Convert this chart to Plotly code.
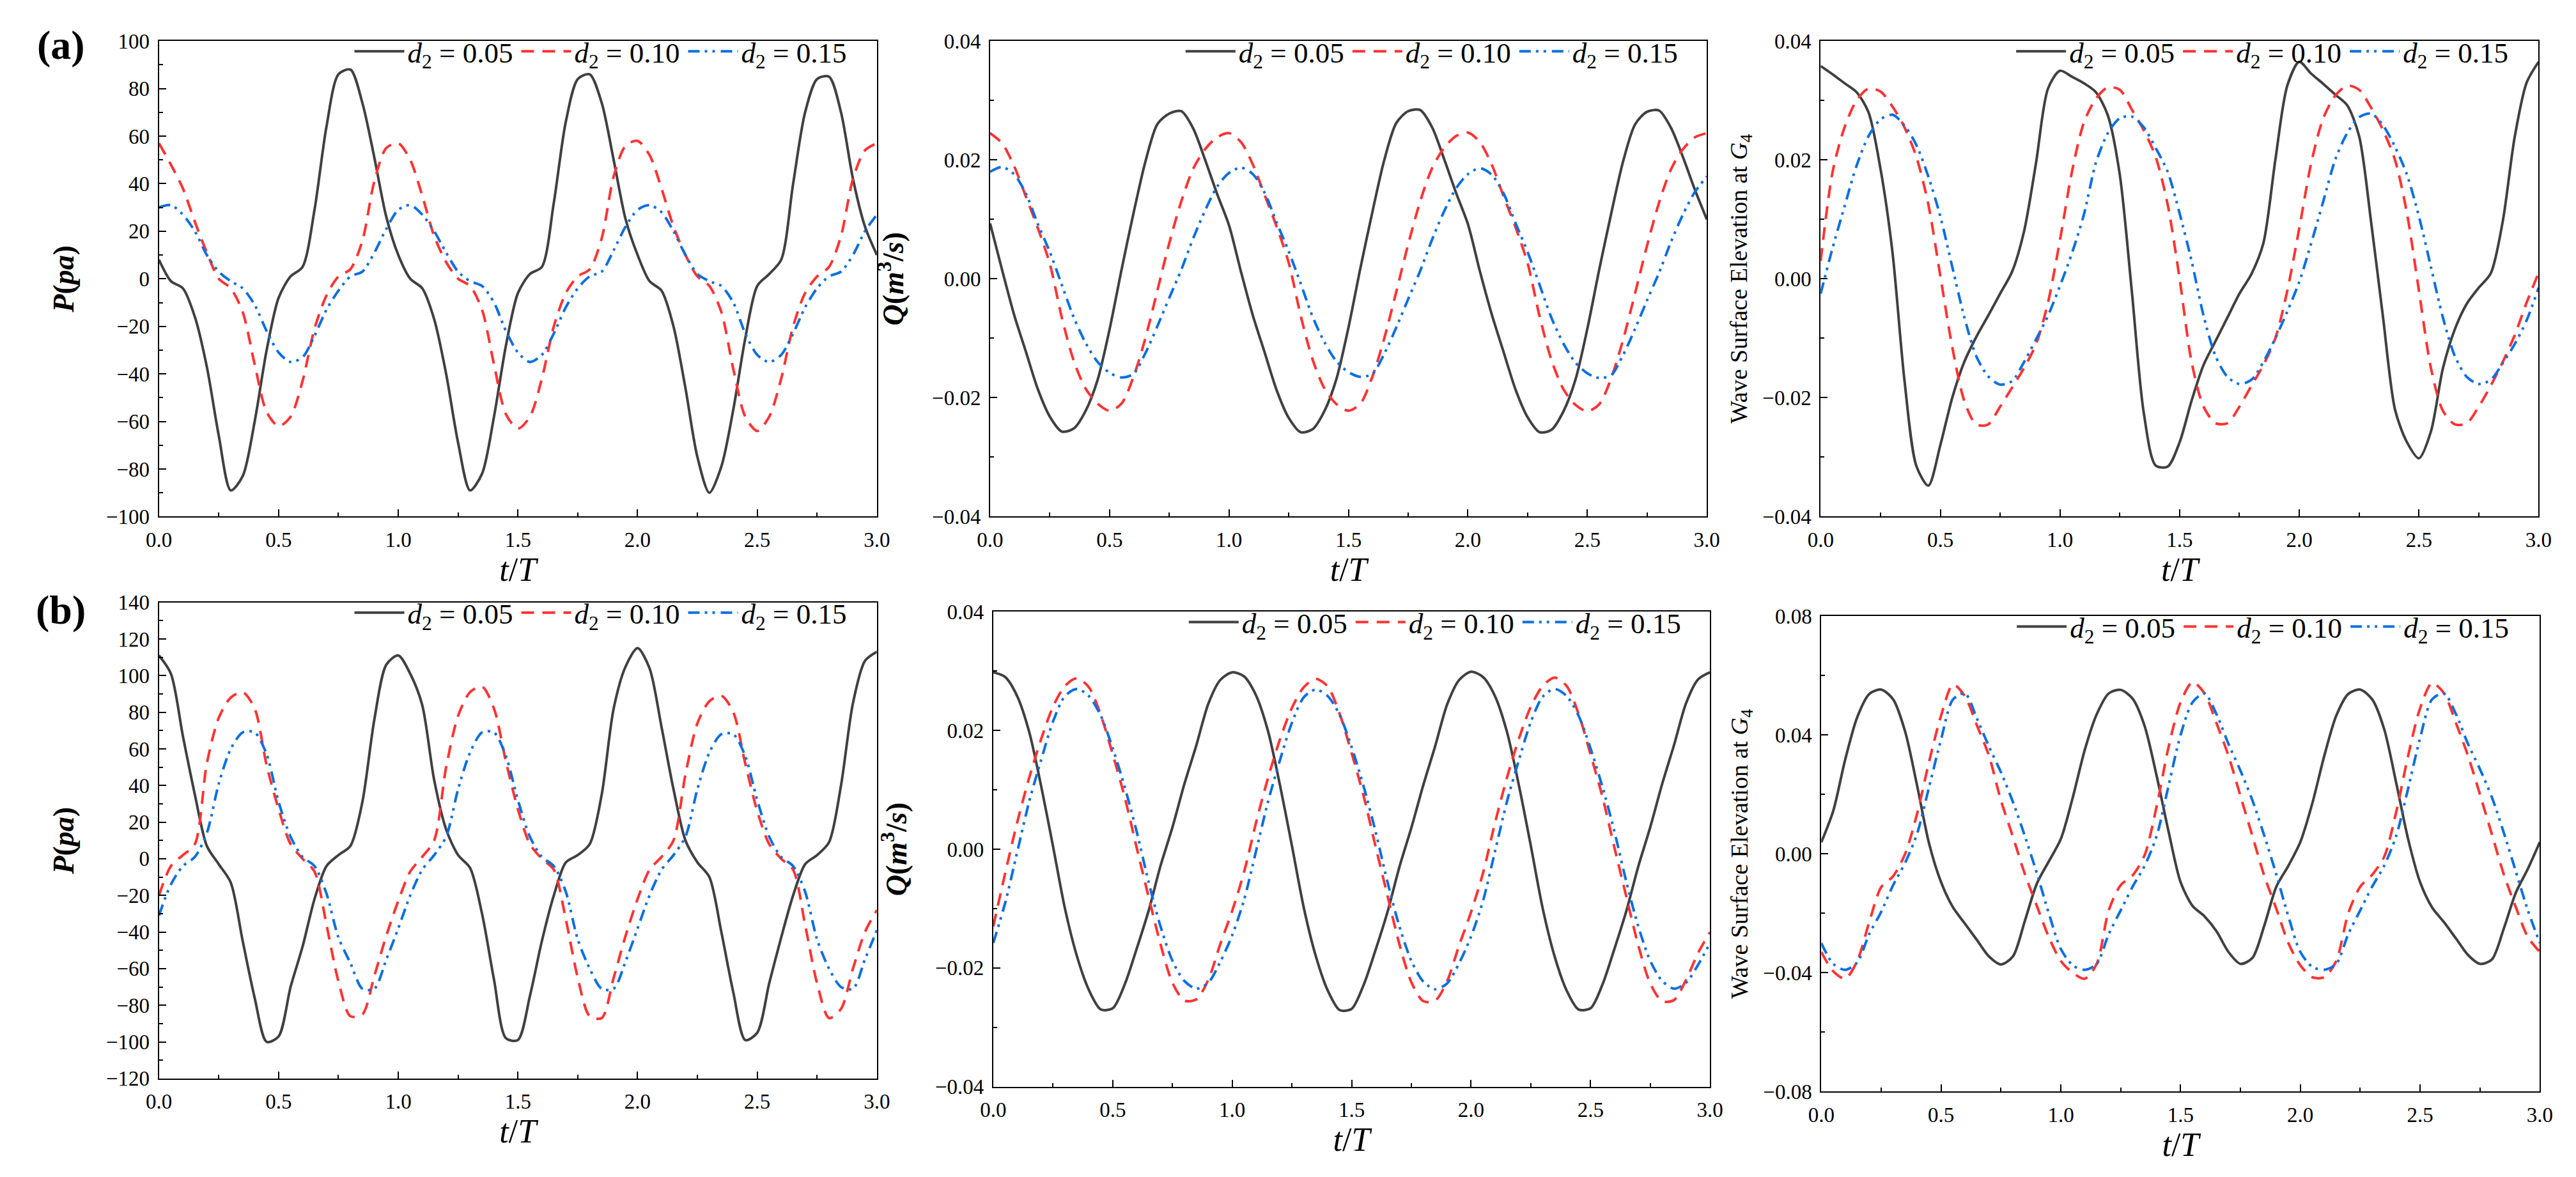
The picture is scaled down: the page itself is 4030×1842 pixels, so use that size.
import numpy as np
import plotly.graph_objects as go

# sample times (t/T)
t = np.round(np.linspace(0, 3, 61), 2)
labels = ["<i>d</i><sub>2</sub> = 0.05", "<i>d</i><sub>2</sub> = 0.10", "<i>d</i><sub>2</sub> = 0.15"]

# ---------------- (a) P(pa) ----------------
a_p_005 = [8,-1,-4,-16,-37,-66,-89,-83,-60,-30,-8,1,5,29,64,86,88,74,51,26,
           10,0,-4,-17,-40,-69,-89,-82,-58,-28,-6,2,5,32,66,84,86,74,50,25,
           10,-1,-5,-20,-46,-75,-90,-79,-55,-25,-3,2,8,40,70,84,85,70,42,22,
           10]
a_p_010 = [57,48,38,24,11,0,-4,-14,-36,-56,-62,-58,-43,-21,-7,1,4,16,41,55,
           57,50,35,18,7,0,-3,-13,-36,-57,-63,-58,-42,-20,-6,1,4,17,43,56,
           58,52,38,22,10,1,-3,-14,-38,-58,-64,-58,-42,-20,-6,1,5,18,42,54,
           57]
a_p_015 = [30,31,27,20,10,3,-1,-4,-11,-22,-31,-35,-33,-24,-13,-5,1,3,11,21,
           29,31,27,20,11,3,-1,-3,-10,-22,-31,-35,-32,-23,-12,-4,1,3,12,22,
           29,31,28,20,10,2,-1,-3,-10,-23,-32,-35,-32,-23,-12,-4,1,3,10,20,
           27]

# ---------------- (a) Q(m3/s) ----------------
a_q_005 = [0.0093,0.0015,-0.0060,-0.0123,-0.0186,-0.0232,-0.0257,-0.0252,-0.0222,-0.0170,-0.0085,0.0015,0.0110,0.0197,0.0260,0.0278,0.0282,0.0253,0.0200,0.0143,
           0.0090,0.0012,-0.0062,-0.0125,-0.0188,-0.0234,-0.0258,-0.0253,-0.0222,-0.0168,-0.0082,0.0018,0.0112,0.0200,0.0262,0.0282,0.0284,0.0255,0.0202,0.0145,
           0.0092,0.0013,-0.0060,-0.0124,-0.0187,-0.0233,-0.0258,-0.0254,-0.0223,-0.0170,-0.0084,0.0016,0.0110,0.0198,0.0260,0.0281,0.0283,0.0254,0.0205,0.0150,
           0.0100]
a_q_010 = [0.0245,0.0228,0.0190,0.0138,0.0085,0.0025,-0.0065,-0.0138,-0.0185,-0.0210,-0.0222,-0.0210,-0.0165,-0.0100,-0.0020,0.0060,0.0130,0.0185,0.0218,0.0238,
           0.0245,0.0230,0.0192,0.0140,0.0087,0.0027,-0.0062,-0.0136,-0.0185,-0.0211,-0.0222,-0.0210,-0.0165,-0.0100,-0.0022,0.0058,0.0130,0.0186,0.0220,0.0240,
           0.0246,0.0230,0.0192,0.0138,0.0086,0.0026,-0.0063,-0.0137,-0.0186,-0.0212,-0.0223,-0.0211,-0.0167,-0.0102,-0.0024,0.0056,0.0128,0.0184,0.0218,0.0238,
           0.0245]
a_q_015 = [0.0180,0.0188,0.0176,0.0143,0.0092,0.0045,-0.0010,-0.0065,-0.0108,-0.0140,-0.0158,-0.0166,-0.0160,-0.0125,-0.0080,-0.0032,0.0015,0.0068,0.0115,0.0155,
           0.0178,0.0187,0.0176,0.0144,0.0094,0.0046,-0.0008,-0.0064,-0.0107,-0.0139,-0.0157,-0.0165,-0.0160,-0.0126,-0.0082,-0.0034,0.0013,0.0066,0.0113,0.0152,
           0.0176,0.0186,0.0175,0.0143,0.0093,0.0045,-0.0010,-0.0066,-0.0109,-0.0141,-0.0159,-0.0167,-0.0162,-0.0128,-0.0084,-0.0036,0.0010,0.0062,0.0108,0.0146,
           0.0172]

# ---------------- (a) wave surface elevation at G4 ----------------
a_g_005 = [0.0358,0.0344,0.0329,0.0314,0.0280,0.0185,0.0045,-0.0170,-0.0315,-0.0348,-0.0280,-0.0200,-0.0140,-0.0098,-0.0062,-0.0025,0.0012,0.0080,0.0195,0.0320,
           0.0350,0.0340,0.0329,0.0314,0.0275,0.0175,-0.0020,-0.0225,-0.0314,-0.0316,-0.0275,-0.0205,-0.0145,-0.0105,-0.0065,-0.0025,0.0008,0.0060,0.0200,0.0325,
           0.0365,0.0345,0.0328,0.0310,0.0292,0.0240,0.0096,-0.0065,-0.0220,-0.0275,-0.0302,-0.0257,-0.0151,-0.0085,-0.0042,-0.0015,0.0009,0.0096,0.0238,0.0330,
           0.0365]
a_g_010 = [0.0030,0.0180,0.0255,0.0300,0.0320,0.0315,0.0290,0.0255,0.0205,0.0125,0.0005,-0.0115,-0.0205,-0.0245,-0.0245,-0.0215,-0.0183,-0.0150,-0.0110,-0.0040,
           0.0065,0.0180,0.0263,0.0303,0.0322,0.0318,0.0285,0.0250,0.0205,0.0125,0.0000,-0.0140,-0.0215,-0.0243,-0.0243,-0.0215,-0.0180,-0.0145,-0.0100,-0.0020,
           0.0085,0.0195,0.0270,0.0308,0.0325,0.0318,0.0288,0.0250,0.0200,0.0110,-0.0020,-0.0150,-0.0222,-0.0245,-0.0243,-0.0215,-0.0180,-0.0140,-0.0095,-0.0040,
           0.0010]
a_g_015 = [-0.0025,0.0052,0.0122,0.0190,0.0240,0.0268,0.0276,0.0258,0.0225,0.0172,0.0105,0.0020,-0.0064,-0.0130,-0.0164,-0.0178,-0.0172,-0.0140,-0.0102,-0.0062,
           -0.0012,0.0043,0.0108,0.0195,0.0245,0.0270,0.0273,0.0255,0.0220,0.0180,0.0110,0.0030,-0.0062,-0.0130,-0.0165,-0.0177,-0.0170,-0.0140,-0.0100,-0.0055,
           -0.0005,0.0060,0.0130,0.0200,0.0245,0.0272,0.0278,0.0258,0.0222,0.0175,0.0105,0.0020,-0.0065,-0.0130,-0.0165,-0.0177,-0.0170,-0.0142,-0.0110,-0.0070,
           -0.0015]

# ---------------- (b) P(pa) ----------------
b_p_005 = [111,101,67,35,7,-3,-13,-45,-76,-100,-97,-70,-48,-22,-4,2,7,31,76,106,
           111,101,84,43,16,2,-5,-30,-66,-98,-99,-75,-45,-20,-2,2,8,35,82,105,
           115,104,72,38,10,-2,-10,-40,-73,-99,-95,-68,-43,-20,-3,2,9,40,85,108,
           113]
b_p_010 = [-20,-4,2,8,52,77,88,91,82,51,27,8,0,-7,-36,-67,-86,-85,-64,-42,
           -23,-7,1,10,50,78,91,94,82,53,27,8,0,-6,-33,-65,-86,-87,-65,-42,
           -22,-6,1,10,46,74,86,89,80,52,26,8,0,-6,-36,-68,-87,-82,-60,-40,
           -28]
b_p_015 = [-31,-14,-4,1,14,41,60,69,69,57,31,12,1,-4,-19,-43,-57,-71,-71,-55,
           -38,-20,-6,2,12,38,58,69,69,56,32,12,1,-4,-18,-44,-60,-71,-71,-56,
           -38,-20,-6,2,12,38,58,68,68,56,32,12,1,-4,-18,-44,-60,-70,-71,-55,
           -39]

# ---------------- (b) Q(m3/s) ----------------
b_q_005 = [0.0298,0.0290,0.0258,0.0198,0.0107,0.0005,-0.0100,-0.0180,-0.0237,-0.0270,-0.0268,-0.0228,-0.0168,-0.0104,-0.0028,0.0037,0.0110,0.0175,0.0245,0.0285,
           0.0298,0.0291,0.0259,0.0199,0.0108,0.0006,-0.0099,-0.0180,-0.0238,-0.0271,-0.0269,-0.0229,-0.0170,-0.0106,-0.0030,0.0036,0.0108,0.0174,0.0244,0.0285,
           0.0299,0.0290,0.0258,0.0198,0.0108,0.0006,-0.0100,-0.0181,-0.0238,-0.0270,-0.0268,-0.0228,-0.0168,-0.0104,-0.0029,0.0037,0.0110,0.0176,0.0246,0.0286,
           0.0298]
b_q_010 = [-0.0130,-0.0040,0.0045,0.0120,0.0185,0.0240,0.0275,0.0288,0.0273,0.0226,0.0160,0.0088,0.0003,-0.0080,-0.0160,-0.0225,-0.0255,-0.0253,-0.0220,-0.0160,
           -0.0104,-0.0038,0.0045,0.0120,0.0185,0.0238,0.0273,0.0287,0.0274,0.0228,0.0162,0.0090,0.0005,-0.0078,-0.0160,-0.0224,-0.0256,-0.0255,-0.0222,-0.0162,
           -0.0106,-0.0040,0.0044,0.0120,0.0186,0.0240,0.0275,0.0289,0.0275,0.0228,0.0160,0.0088,0.0003,-0.0080,-0.0162,-0.0226,-0.0256,-0.0254,-0.0220,-0.0175,
           -0.0140]
b_q_015 = [-0.0158,-0.0090,-0.0005,0.0080,0.0150,0.0215,0.0258,0.0270,0.0258,0.0225,0.0170,0.0105,0.0030,-0.0055,-0.0130,-0.0188,-0.0222,-0.0235,-0.0225,-0.0190,
           -0.0145,-0.0085,-0.0003,0.0080,0.0150,0.0213,0.0256,0.0269,0.0258,0.0226,0.0172,0.0106,0.0030,-0.0055,-0.0130,-0.0188,-0.0223,-0.0236,-0.0226,-0.0192,
           -0.0147,-0.0087,-0.0004,0.0080,0.0150,0.0214,0.0257,0.0270,0.0258,0.0225,0.0170,0.0105,0.0030,-0.0055,-0.0130,-0.0188,-0.0222,-0.0235,-0.0225,-0.0195,
           -0.0158]

# ---------------- (b) wave surface elevation at G4 ----------------
b_g_005 = [0.0039,0.0145,0.0318,0.0460,0.0538,0.0553,0.0520,0.0412,0.0230,0.0035,-0.0095,-0.0180,-0.0235,-0.0290,-0.0345,-0.0372,-0.0345,-0.0225,-0.0100,-0.0025,
           0.0050,0.0190,0.0350,0.0470,0.0540,0.0552,0.0522,0.0430,0.0263,0.0075,-0.0095,-0.0175,-0.0210,-0.0260,-0.0330,-0.0370,-0.0350,-0.0240,-0.0110,-0.0040,
           0.0040,0.0170,0.0330,0.0465,0.0538,0.0553,0.0520,0.0420,0.0240,0.0050,-0.0095,-0.0180,-0.0230,-0.0285,-0.0340,-0.0370,-0.0355,-0.0250,-0.0130,-0.0050,
           0.0040]
b_g_010 = [-0.0330,-0.0395,-0.0420,-0.0360,-0.0230,-0.0112,-0.0075,0.0000,0.0135,0.0310,0.0465,0.0570,0.0530,0.0432,0.0330,0.0180,0.0058,-0.0068,-0.0175,-0.0280,
           -0.0360,-0.0400,-0.0420,-0.0370,-0.0190,-0.0105,-0.0072,-0.0004,0.0160,0.0360,0.0510,0.0578,0.0540,0.0440,0.0330,0.0195,0.0060,-0.0075,-0.0185,-0.0300,
           -0.0375,-0.0415,-0.0415,-0.0360,-0.0200,-0.0110,-0.0070,-0.0010,0.0140,0.0330,0.0490,0.0575,0.0540,0.0440,0.0330,0.0200,0.0065,-0.0070,-0.0180,-0.0280,
           -0.0330]
b_g_015 = [-0.0300,-0.0370,-0.0390,-0.0365,-0.0270,-0.0195,-0.0105,-0.0030,0.0068,0.0225,0.0385,0.0520,0.0540,0.0455,0.0361,0.0275,0.0175,0.0060,-0.0065,-0.0200,
           -0.0320,-0.0375,-0.0390,-0.0370,-0.0270,-0.0190,-0.0110,-0.0040,0.0060,0.0230,0.0400,0.0510,0.0540,0.0470,0.0370,0.0280,0.0180,0.0060,-0.0070,-0.0210,
           -0.0330,-0.0380,-0.0390,-0.0370,-0.0270,-0.0190,-0.0110,-0.0040,0.0060,0.0220,0.0390,0.0520,0.0540,0.0470,0.0370,0.0285,0.0190,0.0070,-0.0060,-0.0190,
           -0.0300]

W, H = 4030, 1842
SERIF = "Liberation Serif"
colors = ["#404040", "#FF3333", "#0A6FE0"]
dashes = ["solid", "20px,13px", "18px,8px,4px,8px,4px,9px"]

# panel layout: (x0,x1,y_top,y_bottom) in pixels
boxes = [
    (222, 1357, 40, 799), (1536, 2669, 40, 799), (2849, 3984, 40, 799),
    (222, 1357, 936, 1696), (1541, 2674, 951, 1709), (2850, 3986, 958, 1717),
]
series = [
    (a_p_005, a_p_010, a_p_015), (a_q_005, a_q_010, a_q_015), (a_g_005, a_g_010, a_g_015),
    (b_p_005, b_p_010, b_p_015), (b_q_005, b_q_010, b_q_015), (b_g_005, b_g_010, b_g_015),
]
yranges = [(-100, 100, 20, 10, ".0f"), (-0.04, 0.04, 0.02, 0.01, ".2f"), (-0.04, 0.04, 0.02, 0.01, ".2f"),
           (-120, 140, 20, 10, ".0f"), (-0.04, 0.04, 0.02, 0.01, ".2f"), (-0.08, 0.08, 0.04, 0.02, ".2f")]
ytitles = ["<b><i>P</i>(<i>pa</i>)</b>", "<b><i>Q</i>(<i>m</i><sup>3</sup>/<i>s</i>)</b>",
           "Wave Surface Elevation at <i>G</i><sub>4</sub>"] * 2
ystandoff = [36, 30, 12, 36, 30, 12]

fig = go.Figure()
layout = {}
for i, (box, ser, yr, yt) in enumerate(zip(boxes, series, yranges, ytitles)):
    n = i + 1
    sfx = "" if n == 1 else str(n)
    x0, x1, yt_px, yb_px = box
    xd = [x0 / W, x1 / W]
    yd = [1 - yb_px / H, 1 - yt_px / H]
    lg = "legend" if n == 1 else f"legend{n}"
    for k in range(3):
        fig.add_trace(go.Scatter(
            x=t, y=ser[k], mode="lines", name=labels[k], line_shape="spline",
            line=dict(color=colors[k], width=4, dash=dashes[k], smoothing=0.8),
            xaxis=f"x{sfx}", yaxis=f"y{sfx}", legend=lg, showlegend=True))
    common = dict(showline=True, linecolor="black", linewidth=2, mirror=True,
                  ticks="inside", ticklen=11, tickwidth=2, tickcolor="black",
                  showgrid=False, zeroline=False,
                  tickfont=dict(family=SERIF, size=33, color="black"),
                  ticklabelstandoff=6)
    layout[f"xaxis{sfx}"] = dict(common, domain=xd, range=[0, 3], dtick=0.5, tick0=0,
                                 tickformat=".1f", anchor=f"y{sfx}",
                                 minor=dict(ticks="inside", ticklen=6, tickwidth=2, dtick=0.25, tickcolor="black"),
                                 title=dict(text="<i>t</i>/<i>T</i>", standoff=1,
                                            font=dict(family=SERIF, size=52, color="black")))
    layout[f"yaxis{sfx}"] = dict(common, domain=yd, range=[yr[0], yr[1]], dtick=yr[2], tick0=yr[0],
                                 tickformat=yr[4], anchor=f"x{sfx}",
                                 minor=dict(ticks="inside", ticklen=6, tickwidth=2, dtick=yr[3], tickcolor="black"),
                                 title=dict(text=yt, standoff=ystandoff[i],
                                            font=dict(family=SERIF, size=(38 if "Wave" in yt else 46), color="black")))
    layout[lg] = dict(orientation="h", x=(x0 + 304) / W, xanchor="left", y=yd[1] + 20 / H, yanchor="top",
                      font=dict(family=SERIF, size=45, color="black"), bgcolor="rgba(0,0,0,0)",
                      itemwidth=78, entrywidth=168, entrywidthmode="pixels", borderwidth=0)

fig.update_layout(**layout)
fig.update_layout(
    width=W, height=H, margin=dict(l=0, r=0, t=0, b=0),
    paper_bgcolor="white", plot_bgcolor="white",
    annotations=[
        dict(text="<b>(a)</b>", x=67 / W, y=1 - 46 / H, xref="paper", yref="paper",
             xanchor="center", yanchor="middle", showarrow=False,
             font=dict(family=SERIF, size=64, color="black")),
        dict(text="<b>(b)</b>", x=67 / W, y=1 - 948 / H, xref="paper", yref="paper",
             xanchor="center", yanchor="middle", showarrow=False,
             font=dict(family=SERIF, size=64, color="black")),
    ],
)
fig.write_html("out.html")
